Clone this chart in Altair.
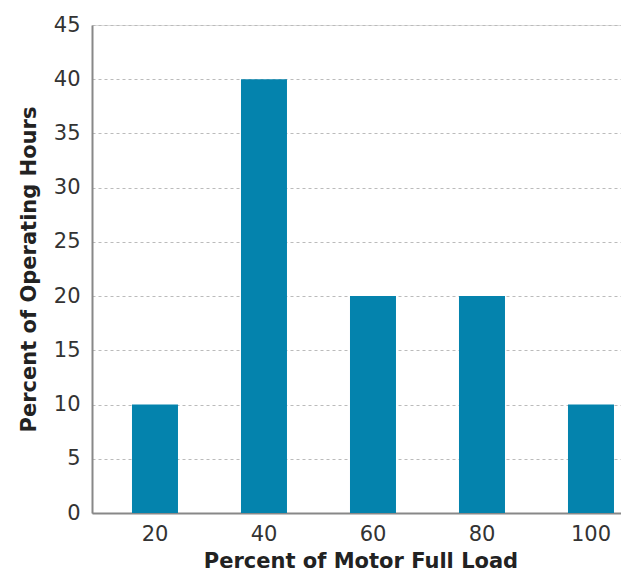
import altair as alt
import pandas as pd

loads = ["20", "40", "60", "80", "100"]
hours = [10, 40, 20, 20, 10]

df = pd.DataFrame({"load": loads, "hours": hours})

FONT = "DejaVu Sans"

chart = alt.Chart(df).mark_bar(color="#0483ad").encode(
    x=alt.X("load:N", sort=loads,
            scale=alt.Scale(paddingInner=0.578, paddingOuter=0.2523, align=0.727),
            axis=alt.Axis(title="Percent of Motor Full Load", labelAngle=0,
                          labelFontSize=21, labelColor="#333333", labelPadding=10,
                          titleFontSize=21, titleFontWeight="bold", titleColor="#222222",
                          titlePadding=6, ticks=False, domainColor="#888888",
                          domainWidth=2, grid=False)),
    y=alt.Y("hours:Q", scale=alt.Scale(domain=[0, 45]),
            axis=alt.Axis(title="Percent of Operating Hours", values=list(range(0, 50, 5)),
                          labelFontSize=21, labelColor="#333333", labelPadding=12,
                          titleFontSize=21, titleFontWeight="bold", titleColor="#222222",
                          titlePadding=14, ticks=False, domainColor="#888888",
                          domainWidth=2, grid=True, gridColor="#bbbbbb",
                          gridDash=[3, 3], gridWidth=1)),
).properties(
    width=537, height=488,
    autosize=alt.AutoSizeParams(type="none"),
    padding={"left": 84, "top": 17, "right": -8, "bottom": 61},
).configure_view(stroke=None).configure(font=FONT)

chart.save("out.html", embed_options={"renderer": "svg", "actions": False})
